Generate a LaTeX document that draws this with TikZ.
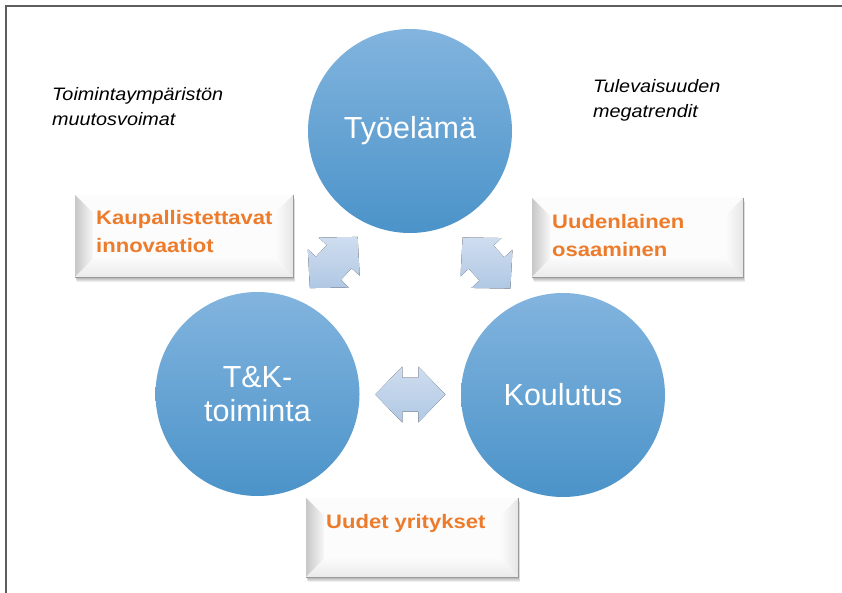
\documentclass[tikz,border=0pt]{standalone}
\usepackage{fontspec}
\setmainfont{Liberation Sans}
\newfontfamily\notefont[FakeStretch=1.1]{Liberation Sans}
\newfontfamily\tagfont[FakeStretch=1.13]{Liberation Sans}
\usetikzlibrary{calc}

\definecolor{orbtop}{HTML}{82B4DE}
\definecolor{orbbot}{HTML}{4B93C9}
\definecolor{tagorange}{HTML}{EC7C2C}
\definecolor{arrlight}{HTML}{CFDDEF}
\definecolor{arrdark}{HTML}{B0C8E4}
\definecolor{framegray}{HTML}{5E5E5E}

\tikzset{
  orb/.style={circle, minimum size=204pt, inner sep=0pt, top color=orbtop,
    bottom color=orbbot, text=white, align=center,
    font=\fontsize{30.5}{34}\selectfont},
  tagtext/.style={anchor=base west, inner sep=0pt, text=tagorange, align=left,
    font=\tagfont\bfseries\fontsize{19.5}{28}\selectfont},
  notetext/.style={anchor=base west, inner sep=0pt, align=left,
    font=\notefont\itshape\fontsize{18}{25}\selectfont},
  cyclearrow/.style={top color=arrlight, bottom color=arrdark, draw=none},
}

% bevelled label plate: #1,#2 top-left corner, #3,#4 bottom-right corner
\newcommand\bevelbox[4]{%
  \foreach \k in {1,...,5}
    \fill[black, opacity=0.07] (#1+0.3*\k, #2+0.8*\k) rectangle (#3+0.4*\k, #4+0.9*\k);
  \fill[white] (#1,#2) rectangle (#3,#4);
  \fill[black!1] (#1,#2) -- (#3,#2) -- (#3-18,#2+18) -- (#1+18,#2+18) -- cycle;
  \shade[left color=black!22, right color=black!3]
    (#1,#2) -- (#1+18,#2+18) -- (#1+18,#4-18) -- (#1,#4) -- cycle;
  \shade[top color=black!2, bottom color=black!8]
    (#1,#4) -- (#1+18,#4-18) -- (#3-18,#4-18) -- (#3,#4) -- cycle;
  \shade[left color=black!1, right color=black!10]
    (#3,#2) -- (#3-18,#2+18) -- (#3-18,#4-18) -- (#3,#4) -- cycle;
  \fill[black!1] (#1+18,#2+18) rectangle (#3-18,#4-18);
  \draw[black!40, line width=0.8pt] (#3,#2) -- (#3,#4) -- (#1,#4);
}

% double block arrow centred on a named coordinate, axis turned by #2 degrees
\newcommand\cyclearrowat[2]{%
  \fill[cyclearrow, shift={(#1)}, rotate=#2]
    (35,0) -- (8,28) -- (8,17) -- (-8,17) -- (-8,28) -- (-35,0)
    -- (-8,-28) -- (-8,-17) -- (8,-17) -- (8,-28) -- cycle;
}

\begin{document}
\begin{tikzpicture}[x=1pt, y=-1pt]
  \useasboundingbox (0,0) rectangle (842,593);
  \fill[white] (0,0) rectangle (842,593);

  % frame
  \draw[framegray, line width=2.2pt] (6,593) -- (6,6) -- (842,6);

  % the three circles
  \node[orb] (tyo) at (410,131) {Työelämä};
  \node[orb] (tk)  at (257.5,394) {T\&K-\\toiminta};
  \node[orb] (kou) at (563,395) {Koulutus};

  % arrows between the circles
  \coordinate (arrTkTyo)  at ($(tk)!0.5!(tyo)$);
  \coordinate (arrTyoKou) at ($(tyo)!0.5!(kou)$);
  \coordinate (arrTkKou)  at ($(tk)!0.5!(kou)$);
  \cyclearrowat{arrTkTyo}{47}
  \cyclearrowat{arrTyoKou}{133}
  \cyclearrowat{arrTkKou}{0}

  % label plates (node base = baseline of the last line)
  \bevelbox{75}{195}{293}{277}
  \node[tagtext] (kaup) at (96,253) {Kaupallistettavat\\innovaatiot};
  \bevelbox{532}{198}{743}{277}
  \node[tagtext] (osa) at (552,257) {Uudenlainen\\osaaminen};
  \bevelbox{306}{498}{518}{577}
  \node[tagtext] (yri) at (326,528) {Uudet yritykset};

  % side notes
  \node[notetext] (muutos) at (52,126) {Toimintaympäristön\\muutosvoimat};
  \node[notetext] (mega) at (593,118) {Tulevaisuuden\\megatrendit};
\end{tikzpicture}
\end{document}
